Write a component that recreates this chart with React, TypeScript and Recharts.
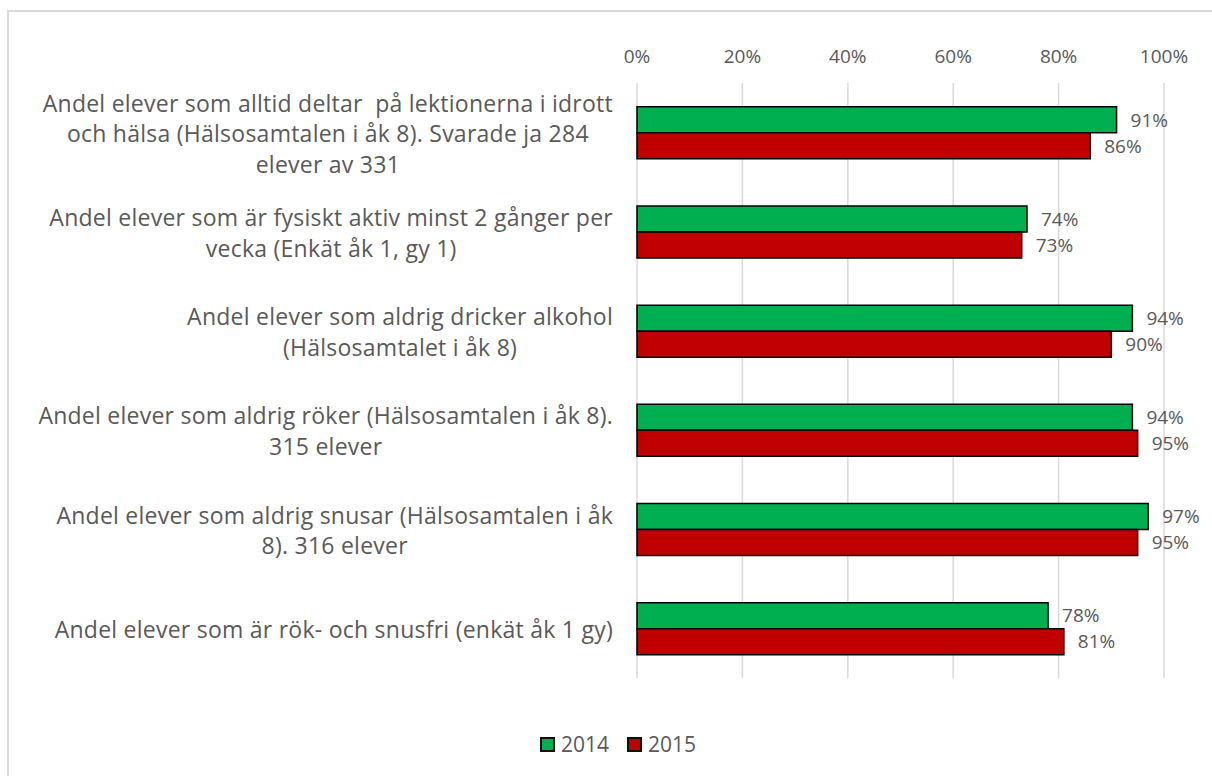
import React from "react";
import { BarChart, Bar, XAxis, YAxis, CartesianGrid, LabelList, Legend } from "recharts";

const categories: string[] = [
  "Andel elever som alltid deltar  på lektionerna i idrott\noch hälsa (Hälsosamtalen i åk 8). Svarade ja 284\nelever av 331",
  "Andel elever som är fysiskt aktiv minst 2 gånger per\nvecka (Enkät åk 1, gy 1)",
  "Andel elever som aldrig dricker alkohol\n(Hälsosamtalet i åk 8)",
  "Andel elever som aldrig röker (Hälsosamtalen i åk 8).\n315 elever",
  "Andel elever som aldrig snusar (Hälsosamtalen i åk\n8). 316 elever",
  "Andel elever som är rök- och snusfri (enkät åk 1 gy)",
];
const values2014: number[] = [0.91, 0.74, 0.94, 0.94, 0.97, 0.78];
const values2015: number[] = [0.86, 0.73, 0.9, 0.95, 0.95, 0.81];
const xTicks: number[] = [0, 0.2, 0.4, 0.6, 0.8, 1];
const seriesNames: string[] = ["2014", "2015"];

const data = categories.map((c, i) => ({
  category: c,
  v2014: values2014[i],
  v2015: values2015[i],
}));

const FONT = "'Open Sans', sans-serif";
const TEXT = "#595959";
const LABEL_SIZE = 23;
const LETTER = 0.25;

let ctx: CanvasRenderingContext2D | null = null;
function measure(text: string): number {
  if (!ctx) {
    const c = document.createElement("canvas");
    ctx = c.getContext("2d");
  }
  if (!ctx) return text.length * LABEL_SIZE * 0.5;
  ctx.font = `${LABEL_SIZE}px 'Open Sans'`;
  return ctx.measureText(text).width + LETTER * text.length;
}

const pct = (v: any) => `${Math.round(Number(v) * 100)}%`;

const CategoryTick = (props: any) => {
  const { x, y, payload } = props;
  const lines: string[] = String(payload.value).split("\n");
  const maxW = Math.max(...lines.map(measure));
  const cx = x - maxW / 2;
  const lh = 30.5;
  const startY = y + 2 - ((lines.length - 1) / 2) * lh;
  return (
    <g>
      {lines.map((l, i) => (
        <text
          key={i}
          x={cx}
          y={startY + i * lh}
          dy={7.5}
          textAnchor="middle"
          fill={TEXT}
          fontSize={LABEL_SIZE}
          fontFamily={FONT}
          letterSpacing={LETTER}
          style={{ whiteSpace: "pre" }}
        >
          {l}
        </text>
      ))}
    </g>
  );
};

const colors = ["#00b050", "#c00000"];

const LegendContent = () => (
  <div style={{ display: "flex", justifyContent: "center", alignItems: "center", fontFamily: FONT, fontSize: 21, color: TEXT }}>
    {seriesNames.map((n, i) => (
      <div key={n} style={{ display: "flex", alignItems: "center", marginRight: i === 0 ? 18 : 0 }}>
        <span style={{ display: "inline-block", width: 11, height: 11, background: colors[i], border: "2px solid #111", marginRight: 6 }} />
        <span>{n}</span>
      </div>
    ))}
  </div>
);

export default function App() {
  return (
    <div style={{ position: "fixed", left: 0, top: 0, width: 1212, height: 776, overflow: "hidden", background: "#fff" }}>
      <div style={{ position: "absolute", left: 7, top: 10, width: 1300, height: 900, border: "2px solid #d9d9d9", boxSizing: "border-box" }} />
      <div style={{ position: "absolute", left: 0, top: 0 }}>
        <BarChart
          width={1212}
          height={776}
          data={data}
          layout="vertical"
          margin={{ top: 30, right: 48, bottom: 98, left: 0 }}
          barCategoryGap="24%"
          barGap={0}
        >
          <CartesianGrid horizontal={false} vertical stroke="#d9d9d9" strokeWidth={1.5} />
          <XAxis
            type="number"
            orientation="top"
            domain={[0, 1]}
            ticks={xTicks}
            tickFormatter={pct}
            axisLine={false}
            tickLine={false}
            height={53}
            tickMargin={14}
            tick={{ fill: TEXT, fontSize: 19, fontFamily: FONT }}
            interval={0}
          />
          <YAxis
            type="category"
            dataKey="category"
            width={637}
            axisLine={false}
            tickLine={false}
            tickSize={0}
            tickMargin={24}
            tick={<CategoryTick />}
            interval={0}
          />
          <Legend layout="horizontal" verticalAlign="middle" align="center" wrapperStyle={{ top: 730, left: 12, width: 1212 }} content={<LegendContent />} />
          <Bar dataKey="v2014" name={seriesNames[0]} fill={colors[0]} stroke="#000" strokeWidth={1.5} isAnimationActive={false}>
            <LabelList dataKey="v2014" position="right" offset={14} formatter={pct} fill={TEXT} fontSize={19} fontFamily={FONT} />
          </Bar>
          <Bar dataKey="v2015" name={seriesNames[1]} fill={colors[1]} stroke="#000" strokeWidth={1.5} isAnimationActive={false}>
            <LabelList dataKey="v2015" position="right" offset={14} formatter={pct} fill={TEXT} fontSize={19} fontFamily={FONT} />
          </Bar>
        </BarChart>
      </div>
    </div>
  );
}
